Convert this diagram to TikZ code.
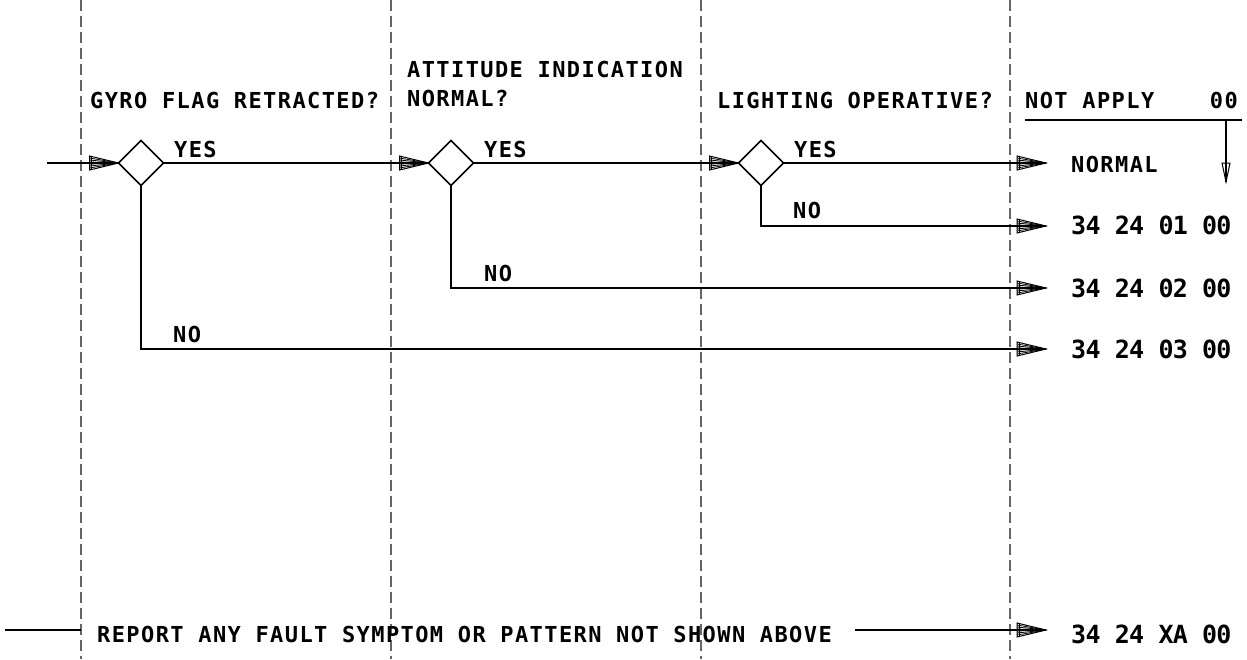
\documentclass[tikz,border=0pt]{standalone}
\usepackage{fontspec}
\usetikzlibrary{shapes.geometric}
\newfontfamily\cadfont{DejaVu Sans Mono}[LetterSpace=6.4,UprightFont=*-Bold]
\newfontfamily\codefont{DejaVu Sans Mono}[LetterSpace=-3,UprightFont=*-Bold]
\begin{document}
\begin{tikzpicture}[x=1pt,y=-1pt,
  line/.style={line width=2pt},
  divider/.style={draw=black!60,line width=2pt,dash pattern=on 11pt off 5pt},
  decision/.style={draw,line width=1.6pt,shape=diamond,aspect=1,minimum width=45pt,minimum height=45pt,inner sep=0pt,outer sep=0pt},
  lbl/.style={font=\cadfont\fontsize{22}{26}\selectfont,inner sep=0pt,anchor=base west},
  code/.style={font=\codefont\fontsize{25}{30}\selectfont,inner sep=0pt,anchor=base west},
  hatchtip/.pic={
    \draw[line width=1pt] (0,0) -- (-29,-7) -- (-29,7) -- cycle;
    \draw[line width=0.8pt] (-27,-7) -- (-27,7);
    \foreach \h in {-5,-3,-1,1,3,5}{\draw[line width=0.8pt] (0,0) -- (-29,\h);}
  }]
\useasboundingbox (0,0) rectangle (1247,659);

% column dividers
\foreach \x in {81,391,701,1010}{\draw[divider] (\x,0) -- (\x,659);}

% column headings
\node[lbl] (h1) at (90,108) {GYRO FLAG RETRACTED?};
\node[lbl] (h2a) at (407,77) {ATTITUDE INDICATION};
\node[lbl] (h2b) at (407,106) {NORMAL?};
\node[lbl] (h3) at (717,108) {LIGHTING OPERATIVE?};
\node[lbl] (h4) at (1025,108) {NOT APPLY};
\node[lbl,anchor=base east] (h4c) at (1238,108) {00};

% heading rule and its down arrow
\coordinate (r0) at (1025,120);
\coordinate (r1) at (1242,120);
\coordinate (ra) at (1226,120);
\coordinate (rb) at (1226,182);
\draw[line] (r0) -- (r1);
\draw[line width=1.4pt] (ra) -- (rb);
\draw[line width=1pt] ([xshift=-4pt]ra |- 0,163) -- (rb) -- ([xshift=4pt]ra |- 0,163) -- cycle;

% decisions
\node[decision] (d1) at (141,163) {};
\node[decision] (d2) at (451,163) {};
\node[decision] (d3) at (761,163) {};

% line ends (arrow tips)
\coordinate (in1) at (47,163);
\coordinate (e0) at (1046,163);
\coordinate (e1) at (1046,226);
\coordinate (e2) at (1046,288);
\coordinate (e3) at (1046,349);
\coordinate (e4) at (1046,630);
\coordinate (s0) at (5,630);
\coordinate (s1) at (81,630);
\coordinate (s2) at (855,630);

% results
\node[lbl] (n0) at (1071,172) {NORMAL};
\node[code] (n1) at (1071,234) {34 24 01 00};
\node[code] (n2) at (1071,297) {34 24 02 00};
\node[code] (n3) at (1071,358) {34 24 03 00};
\node[code] (n4) at (1071,643) {34 24 XA 00};

% flow
\draw[line] (in1) -- (d1.west);
\draw[line] (d1.east) -- (d2.west);
\draw[line] (d2.east) -- (d3.west);
\draw[line] (d3.east) -- (e0);
\draw[line] (d3.south) |- (e1);
\draw[line] (d2.south) |- (e2);
\draw[line] (d1.south) |- (e3);
\pic at (d1.west) {hatchtip};
\pic at (d2.west) {hatchtip};
\pic at (d3.west) {hatchtip};
\foreach \e in {e0,e1,e2,e3,e4}{\pic at (\e) {hatchtip};}

% branch labels
\node[lbl] (y1) at (174,157) {YES};
\node[lbl] (y2) at (484,157) {YES};
\node[lbl] (y3) at (794,157) {YES};
\node[lbl] (no3) at (793,218) {NO};
\node[lbl] (no2) at (484,281) {NO};
\node[lbl] (no1) at (173,342) {NO};

% catch-all row
\node[lbl] (rep) at (97,642) {REPORT ANY FAULT SYMPTOM OR PATTERN NOT SHOWN ABOVE};
\draw[line] (s0) -- (s1);
\draw[line] (s2) -- (e4);
\end{tikzpicture}
\end{document}
